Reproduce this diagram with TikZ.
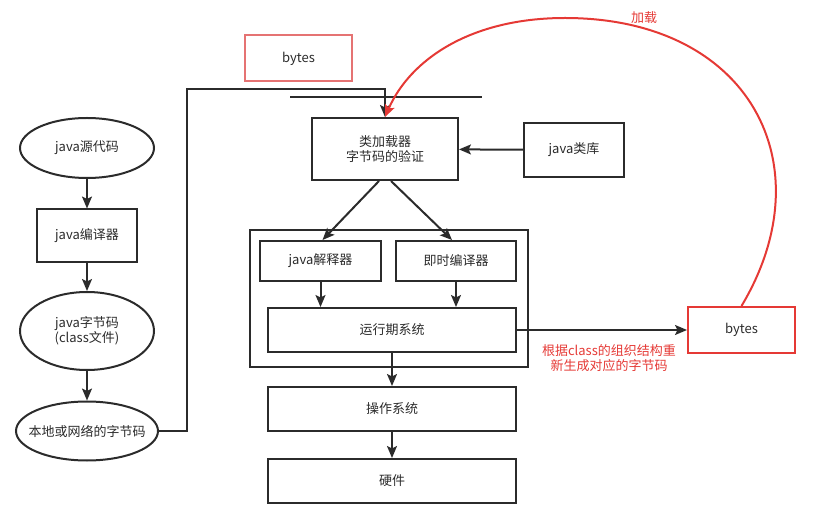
\documentclass[tikz,border=0pt]{standalone}
\usepackage{fontspec}
\setmainfont{Noto Sans CJK SC}
\usetikzlibrary{arrows.meta,shapes.geometric}
\definecolor{ink}{HTML}{2B2B2B}
\definecolor{loadred}{HTML}{E53935}
\definecolor{softred}{HTML}{E57373}

\begin{document}
\begin{tikzpicture}
  [x=1pt,y=-1pt,every node/.style={font=\fontsize{13}{15.5}\selectfont,text=ink,align=center,inner sep=0pt}]
  \tikzstyle{box} = [draw=ink,line width=2pt,shape=rectangle]
  \tikzstyle{blob} = [draw=ink,line width=2pt,shape=ellipse]
  \tikzstyle{redbox} = [draw=loadred,line width=2pt,shape=rectangle,minimum width=107,minimum height=46]
  \tikzstyle{flow} = [draw=ink,line width=2pt,-{Stealth[length=12pt,width=10pt,inset=2.5pt]}]
  \useasboundingbox (0,0) rectangle (822,518);
  % left column
  \node[blob,minimum width=134,minimum height=60] (src) at (87,148) {java源代码};
  \node[box,minimum width=100,minimum height=53] (javac) at (87,236) {java编译器};
  \node[blob,minimum width=134,minimum height=78] (cls) at (87,331) {java字节码\\(class文件)};
  \node[blob,inner xsep=-9pt,minimum width=142,minimum height=59] (local) at (87,431) {本地或网络的字节码};
  % loader and vm
  \node[redbox,draw=softred] (bytes1) at (298.5,58.5) {bytes};
  \node[box,minimum width=146,minimum height=62] (loader) at (385,149) {类加载器\\字节码的验证};
  \node[box,minimum width=100,minimum height=54] (lib) at (574,150) {java类库};
  \node[box,minimum width=278,minimum height=137] (jvm) at (389,298.5) {};
  \node[box,minimum width=121,minimum height=40] (interp) at (320.5,261) {java解释器};
  \node[box,minimum width=120,minimum height=40] (jit) at (456,261) {即时编译器};
  \node[box,minimum width=248,minimum height=44] (runtime) at (392,330) {运行期系统};
  \node[box,minimum width=248,minimum height=44] (os) at (392,409) {操作系统};
  \node[box,minimum width=248,minimum height=44] (hw) at (392,481) {硬件};
  % regenerated bytes
  \node[redbox] (bytes2) at (741.5,330) {bytes};
  \node[text=loadred] (regen) at (609,358) {根据class的组织结构重\\新生成对应的字节码};
  \node[text=loadred] (loadtxt) at (644,18) {加载};
  \coordinate (bend) at (187,89);
  \coordinate (barL) at (290,97);
  \coordinate (barR) at (482,97);

\foreach \source/\dest in {src/javac,javac/cls,cls/local,lib/loader,runtime/os,os/hw,runtime/bytes2}
   \draw[flow] (\source) -- (\dest);
  \draw[flow] (interp.south) -- (interp.south |- runtime.north);
  \draw[flow] (jit.south) -- (jit.south |- runtime.north);
  \draw[flow] ([xshift=-6pt]loader.south) -- ([xshift=2pt]interp.north);
  \draw[flow] ([xshift=6pt]loader.south) -- ([xshift=-4pt]jit.north);
  \draw[flow] (local.east) -| (bend) -| (loader.north);
  \draw[draw=ink,line width=2pt] (barL) -- (barR);
  \draw[draw=loadred,line width=2pt,-{Stealth[length=12pt,width=10pt,inset=2.5pt]}]
    (bytes2.north) .. controls (826,165) and (750,18) .. (565,18)
    .. controls (470,18) and (410,60) .. (loader.north);
\end{tikzpicture}
\end{document}
